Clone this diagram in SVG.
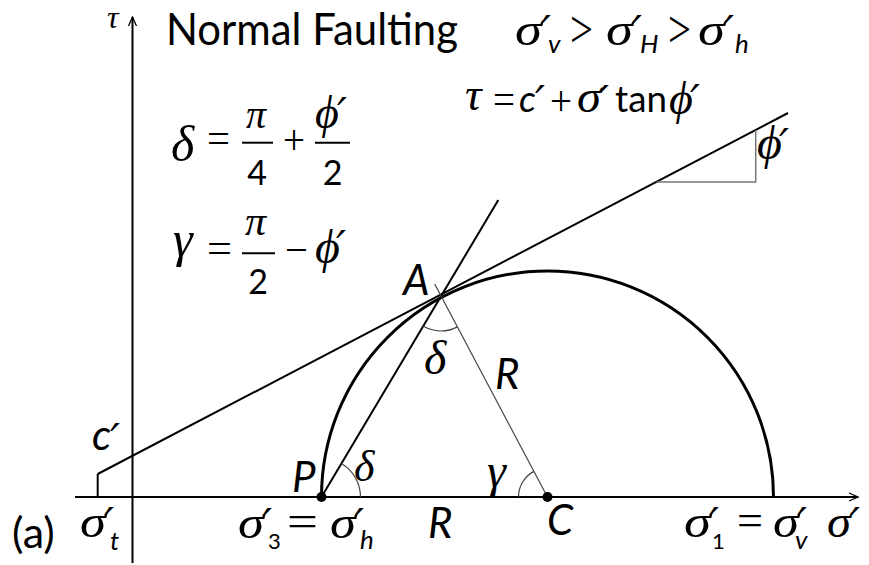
<svg xmlns="http://www.w3.org/2000/svg" width="869" height="565" viewBox="0 0 869 565">
<defs>
<marker id="ah" markerWidth="12" markerHeight="12" refX="10" refY="6" orient="auto" markerUnits="userSpaceOnUse"><path d="M1,2 L10,6 L1,10" fill="none" stroke="#000" stroke-width="1.3"/></marker>
</defs>
<style>
.gk{font-family:"Liberation Serif","DejaVu Serif",serif;font-style:italic;fill:#000}
.op{font-family:"Liberation Serif",serif;font-style:normal;fill:#000}
.sn{font-family:Lato,"Open Sans",sans-serif;font-style:normal;fill:#000}
.si{font-family:Lato,"Open Sans",sans-serif;font-style:italic;fill:#000}
.pr{font-family:"DejaVu Sans",sans-serif;font-style:italic;font-size:44px;fill:#000}
.ln{stroke:#000;stroke-width:2;fill:none}
.thin{stroke:#444;stroke-width:1.2;fill:none}
.ang{stroke:#444;stroke-width:1.2;fill:none}
</style>
<rect width="869" height="565" fill="#fff"/>

<g id="connectors">
<line class="ln" x1="75" y1="497" x2="858" y2="497" marker-end="url(#ah)"/>
<line class="ln" x1="132.5" y1="563" x2="132.5" y2="17" marker-end="url(#ah)"/>
<path d="M321.5,497 A226,226 0 0 1 773.5,497" stroke="#000" stroke-width="3" fill="none"/>
<line class="ln" x1="97.7" y1="474" x2="788" y2="113"/>
<line class="ln" x1="97.7" y1="474" x2="97.7" y2="497"/>
<line class="ln" x1="321.5" y1="497" x2="498.3" y2="200"/>
<line class="thin" x1="547.5" y1="497" x2="434.7" y2="284"/>
<polyline points="656.7,182 755.7,182 755.7,130" stroke="#777" stroke-width="1.5" fill="none"/>
<path class="ang" d="M423.1,326.1 A35,35 0 0 0 457.4,326.9"/>
<path class="ang" d="M360.5,497 A39,39 0 0 0 341.4,463.5"/>
<path class="ang" d="M518.5,497 A29,29 0 0 1 533.9,471.4"/>
</g>

<g id="node-P"><circle cx="321.5" cy="497" r="5" fill="#000"/><text class="si" x="292" y="492" font-size="42">P</text></g>
<g id="node-C"><circle cx="547.5" cy="497" r="5" fill="#000"/><text class="si" x="547" y="535" font-size="42">C</text></g>
<g id="node-A"><text class="si" x="403" y="295" font-size="42">A</text></g>

<g id="title">
<text class="gk" x="107" y="28" font-size="32">τ</text>
<text class="sn" x="166" y="45" font-size="45" textLength="292" lengthAdjust="spacingAndGlyphs">Normal Faulting</text>
<text class="gk" font-size="47"><tspan x="515" y="45" textLength="27" lengthAdjust="spacingAndGlyphs">σ</tspan><tspan class="pr" x="541" y="48">′</tspan><tspan class="si" x="548" y="53" font-size="26">v</tspan><tspan class="op" x="570" y="47" font-size="52" textLength="23" lengthAdjust="spacingAndGlyphs">&gt;</tspan><tspan x="606" y="45" textLength="27" lengthAdjust="spacingAndGlyphs">σ</tspan><tspan class="pr" x="632" y="48">′</tspan><tspan class="si" x="640" y="53" font-size="26">H</tspan><tspan class="op" x="668" y="47" font-size="52" textLength="23" lengthAdjust="spacingAndGlyphs">&gt;</tspan><tspan x="698" y="45" textLength="27" lengthAdjust="spacingAndGlyphs">σ</tspan><tspan class="pr" x="724" y="48">′</tspan><tspan class="si" x="735" y="53" font-size="26">h</tspan></text>
</g>

<g id="eq-delta">
<text class="gk" x="171" y="161" font-size="50">δ</text>
<text class="op" x="207" y="152" font-size="42" textLength="23" lengthAdjust="spacingAndGlyphs">=</text>
<text class="gk" x="246" y="128" font-size="40">π</text>
<line class="ln" x1="242" y1="142.7" x2="273" y2="142.7" stroke-width="1.5"/>
<text class="sn" x="257" y="185" font-size="34" text-anchor="middle">4</text>
<text class="op" x="283" y="154" font-size="42" textLength="22" lengthAdjust="spacingAndGlyphs">+</text>
<text class="gk" font-size="46"><tspan x="315" y="128">ϕ</tspan><tspan class="pr" x="337" y="130">′</tspan></text>
<line class="ln" x1="315" y1="142.7" x2="350" y2="142.7" stroke-width="1.5"/>
<text class="sn" x="332.5" y="185" font-size="34" text-anchor="middle">2</text>
</g>

<g id="eq-gamma">
<text class="gk" x="173" y="256" font-size="50">γ</text>
<text class="op" x="207" y="262" font-size="42" textLength="25" lengthAdjust="spacingAndGlyphs">=</text>
<text class="gk" x="245" y="235" font-size="42">π</text>
<line class="ln" x1="242" y1="253.3" x2="275" y2="253.3" stroke-width="1.5"/>
<text class="sn" x="258" y="294" font-size="34" text-anchor="middle">2</text>
<text class="op" x="285" y="264" font-size="42" textLength="23" lengthAdjust="spacingAndGlyphs">−</text>
<text class="gk" font-size="48"><tspan x="315" y="263">ϕ</tspan><tspan class="pr" x="336" y="263">′</tspan></text>
</g>

<g id="eq-coulomb">
<text class="gk" font-size="46"><tspan x="465" y="110">τ</tspan><tspan class="op" x="493" y="113" font-size="42" textLength="22" lengthAdjust="spacingAndGlyphs">=</tspan><tspan class="si" x="519" y="112" font-size="37">c</tspan><tspan class="pr" x="535" y="118">′</tspan><tspan class="op" x="550" y="115" font-size="42" textLength="22" lengthAdjust="spacingAndGlyphs">+</tspan><tspan x="577" y="112" textLength="24" lengthAdjust="spacingAndGlyphs">σ</tspan><tspan class="pr" x="599" y="118">′</tspan><tspan class="sn" x="615" y="112" font-size="36" textLength="52" lengthAdjust="spacingAndGlyphs">tan</tspan><tspan x="669" y="114" font-size="46">ϕ</tspan><tspan class="pr" x="690" y="117">′</tspan></text>
</g>

<g id="phi-label">
<text class="gk" font-size="48"><tspan x="757" y="159">ϕ</tspan><tspan class="pr" x="779" y="161">′</tspan></text>
</g>

<g id="labels">
<text class="gk" x="424" y="374" font-size="48">δ</text>
<text class="si" x="495" y="389" font-size="42">R</text>
<text class="gk" x="354" y="481" font-size="44">δ</text>
<text class="gk" x="487" y="487" font-size="48">γ</text>
<text class="si" font-size="42"><tspan x="92" y="450">c</tspan><tspan class="pr" x="110" y="456">′</tspan></text>
<text class="sn" x="12" y="548" font-size="43">(a)</text>
<text class="gk" font-size="47"><tspan x="80" y="537" textLength="26" lengthAdjust="spacingAndGlyphs">σ</tspan><tspan class="pr" x="104" y="540">′</tspan><tspan class="si" x="110" y="550" font-size="26">t</tspan></text>
<text class="gk" font-size="47"><tspan x="238" y="538" textLength="26" lengthAdjust="spacingAndGlyphs">σ</tspan><tspan class="pr" x="262" y="541">′</tspan><tspan class="sn" x="268" y="549" font-size="22">3</tspan><tspan class="op" x="287" y="536" font-size="44" textLength="31" lengthAdjust="spacingAndGlyphs">=</tspan><tspan x="330" y="538" textLength="26" lengthAdjust="spacingAndGlyphs">σ</tspan><tspan class="pr" x="354" y="541">′</tspan><tspan class="si" x="360" y="549" font-size="26">h</tspan></text>
<text class="si" x="428" y="538" font-size="42">R</text>
<text class="gk" font-size="47"><tspan x="684" y="537" textLength="27" lengthAdjust="spacingAndGlyphs">σ</tspan><tspan class="pr" x="709" y="540">′</tspan><tspan class="sn" x="712" y="549" font-size="22">1</tspan><tspan class="op" x="737" y="535" font-size="44" textLength="26" lengthAdjust="spacingAndGlyphs">=</tspan><tspan x="773" y="537" textLength="26" lengthAdjust="spacingAndGlyphs">σ</tspan><tspan class="pr" x="797" y="540">′</tspan><tspan class="si" x="795" y="549" font-size="26">v</tspan><tspan x="827" y="537" textLength="24" lengthAdjust="spacingAndGlyphs">σ</tspan><tspan class="pr" x="850" y="540">′</tspan></text>
</g>
</svg>
